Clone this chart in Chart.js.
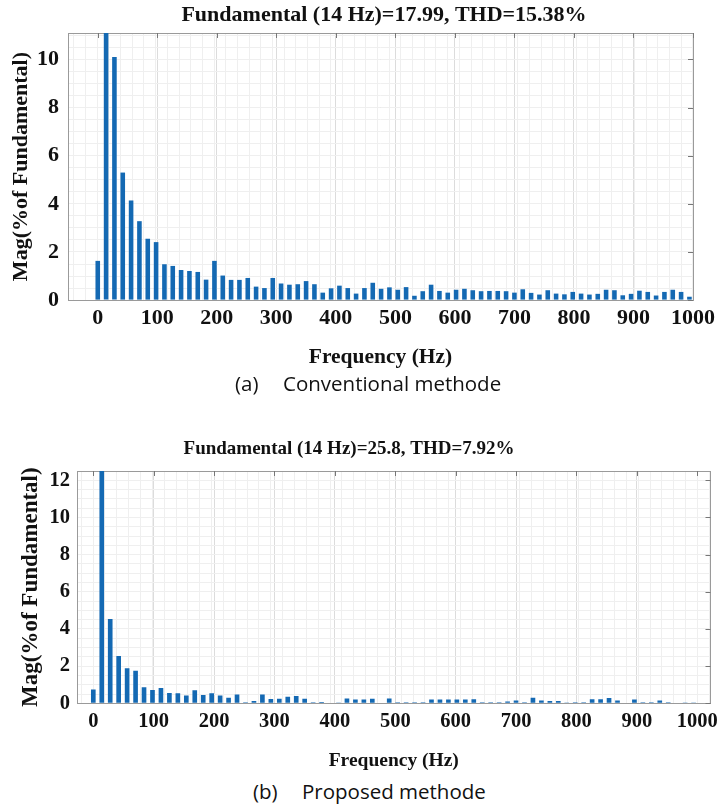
<!DOCTYPE html>
<html>
<head>
<meta charset="utf-8">
<title>FFT harmonic spectrum</title>
<script src="https://cdn.jsdelivr.net/npm/chart.js@4.4.0/dist/chart.umd.min.js"></script>
<style>
  body { margin: 0; background: #fff; width: 724px; height: 807px; position: relative; overflow: hidden; }
  .box { position: absolute; }
  .cap { position: absolute; font-family: 'Open Sans', sans-serif; font-size: 20.5px; color: #111; white-space: nowrap; }
</style>
</head>
<body>
<div class="box" style="left:0;top:0;width:760px;height:373px"><canvas id="chartA"></canvas></div>
<div class="cap" style="left:235px;top:369px">(a)</div>
<div class="cap" style="left:283px;top:369px">Conventional methode</div>
<div class="box" style="left:-26px;top:425px;width:750px;height:351px"><canvas id="chartB"></canvas></div>
<div class="cap" style="left:253px;top:777px">(b)</div>
<div class="cap" style="left:302px;top:777px">Proposed methode</div>
<script>
// Harmonic frequencies (multiples of the 14 Hz fundamental)
const freqHz = [0, 14, 28, 42, 56, 70, 84, 98, 112, 126, 140, 154, 168, 182, 196, 210,
  224, 238, 252, 266, 280, 294, 308, 322, 336, 350, 364, 378, 392, 406, 420, 434,
  448, 462, 476, 490, 504, 518, 532, 546, 560, 574, 588, 602, 616, 630, 644, 658,
  672, 686, 700, 714, 728, 742, 756, 770, 784, 798, 812, 826, 840, 854, 868, 882,
  896, 910, 924, 938, 952, 966, 980, 994];

// (a) Conventional method, magnitude in % of fundamental
const magConventional = [1.63, 100, 10.1, 5.3, 4.14, 3.28, 2.55, 2.41, 1.49, 1.42, 1.25, 1.21,
  1.17, 0.85, 1.63, 1.02, 0.84, 0.84, 0.92, 0.56, 0.5, 0.92, 0.69, 0.64,
  0.66, 0.79, 0.66, 0.31, 0.49, 0.6, 0.5, 0.27, 0.5, 0.72, 0.47, 0.53,
  0.43, 0.54, 0.18, 0.37, 0.64, 0.38, 0.31, 0.43, 0.47, 0.41, 0.37, 0.38,
  0.38, 0.37, 0.31, 0.45, 0.3, 0.23, 0.41, 0.27, 0.24, 0.34, 0.27, 0.23,
  0.26, 0.43, 0.41, 0.2, 0.26, 0.39, 0.34, 0.19, 0.34, 0.43, 0.34, 0.14];

// (b) Proposed method, magnitude in % of fundamental
const magProposed = [0.74, 100, 4.54, 2.54, 1.88, 1.75, 0.86, 0.72, 0.82, 0.56, 0.54, 0.42,
  0.7, 0.44, 0.54, 0.42, 0.3, 0.47, 0.05, 0.12, 0.47, 0.23, 0.25, 0.35,
  0.39, 0.25, 0.05, 0.07, 0.03, 0.02, 0.26, 0.21, 0.21, 0.25, 0.03, 0.26,
  0.05, 0.05, 0.05, 0.05, 0.2, 0.2, 0.2, 0.2, 0.2, 0.22, 0.05, 0.05,
  0.05, 0.1, 0.15, 0.05, 0.3, 0.15, 0.12, 0.12, 0.02, 0.05, 0.05, 0.22,
  0.22, 0.28, 0.15, 0.03, 0.2, 0.05, 0.05, 0.15, 0.05, 0.03, 0.02, 0.01];

// Tick labels
const xTicks = [0, 100, 200, 300, 400, 500, 600, 700, 800, 900, 1000];
const yTicksA = [0, 2, 4, 6, 8, 10];
const yTicksB = [0, 2, 4, 6, 8, 10, 12];

const titleA = 'Fundamental (14 Hz)=17.99, THD=15.38%';
const titleB = 'Fundamental (14 Hz)=25.8, THD=7.92%';
const xTitle = 'Frequency (Hz)';
const yTitle = 'Mag(%of Fundamental)';

const serif = 'Liberation Serif, Times New Roman, serif';
const barBlue = '#1469b3';
const majorGrid = '#dcdcdc';
const minorGrid = '#efefef';
const frameGray = '#9a9a9a';

// minor grid positions between the major ticks
function gridSteps(min, max, step) {
  const out = [];
  for (let v = Math.ceil(min / step) * step; v <= max + 1e-9; v += step) {
    out.push({ value: Math.round(v * 1000) / 1000 });
  }
  return out;
}

// small inward tick marks on the top and right edges of the box
const boxTicks = {
  id: 'boxTicks',
  afterDraw(chart) {
    const { ctx, chartArea, scales } = chart;
    ctx.save();
    ctx.strokeStyle = '#777';
    ctx.lineWidth = 1;
    ctx.beginPath();
    scales.x.ticks.forEach(t => {
      const px = Math.round(scales.x.getPixelForValue(t.value)) + 0.5;
      ctx.moveTo(px, chartArea.top);
      ctx.lineTo(px, chartArea.top + 5);
    });
    scales.y.ticks.forEach(t => {
      const py = Math.round(scales.y.getPixelForValue(t.value)) + 0.5;
      ctx.moveTo(chartArea.right, py);
      ctx.lineTo(chartArea.right - 5, py);
    });
    ctx.stroke();
    ctx.restore();
  }
};

function makeSpectrum(canvasId, mags, title, cfg) {
  const ctx = document.getElementById(canvasId).getContext('2d');
  return new Chart(ctx, {
    type: 'bar',
    data: {
      datasets: [{
        data: freqHz.map((f, i) => ({ x: f, y: mags[i] })),
        backgroundColor: barBlue,
        borderWidth: 0,
        categoryPercentage: 1,
        barPercentage: 0.55
      }]
    },
    plugins: [boxTicks],
    options: {
      responsive: true,
      maintainAspectRatio: false,
      animation: false,
      layout: { padding: cfg.padding },
      plugins: {
        legend: { display: false },
        tooltip: { enabled: false },
        title: {
          display: true,
          text: title,
          color: '#111',
          font: { family: serif, size: cfg.titleSize, weight: 'bold' },
          padding: cfg.titlePadding
        }
      },
      scales: {
        x: {
          type: 'linear',
          min: cfg.xMin,
          max: cfg.xMax,
          bounds: 'data',
          offset: false,
          afterBuildTicks: (scale) => { scale.ticks = xTicks.map(v => ({ value: v })); },
          grid: { offset: false, color: majorGrid, drawTicks: false },
          border: { color: frameGray },
          ticks: {
            padding: cfg.xTickPad,
            maxRotation: 0,
            autoSkip: false,
            color: '#111',
            font: { family: serif, size: cfg.tickSize, weight: 'bold' },
            callback: (v) => String(v)
          },
          title: {
            display: true,
            text: xTitle,
            color: '#111',
            font: { family: serif, size: cfg.xTitleSize, weight: 'bold' },
            padding: cfg.xTitlePadding
          }
        },
        y: {
          min: 0,
          max: cfg.yMax,
          bounds: 'data',
          afterBuildTicks: (scale) => { scale.ticks = cfg.yTicks.map(v => ({ value: v })); },
          afterFit: (scale) => { scale.width = cfg.yAxisWidth; },
          grid: { color: majorGrid, drawTicks: false },
          border: { color: frameGray },
          ticks: {
            padding: cfg.yTickPad,
            color: '#111',
            font: { family: serif, size: cfg.tickSize, weight: 'bold' }
          },
          title: {
            display: true,
            text: yTitle,
            color: '#111',
            font: { family: serif, size: cfg.yTitleSize, weight: 'bold' },
            padding: cfg.yTitlePadding
          }
        },
        xMinor: {
          type: 'linear',
          position: 'top',
          min: cfg.xMin,
          max: cfg.xMax,
          bounds: 'data',
          z: -1,
          afterBuildTicks: (scale) => { scale.ticks = gridSteps(scale.min, scale.max, 20); },
          grid: { color: minorGrid, drawTicks: false },
          border: { color: frameGray },
          ticks: { display: false }
        },
        yMinor: {
          type: 'linear',
          position: 'right',
          min: 0,
          max: cfg.yMax,
          bounds: 'data',
          z: -1,
          afterBuildTicks: (scale) => { scale.ticks = gridSteps(scale.min, scale.max, 0.5); },
          afterFit: (scale) => { scale.width = cfg.rightWidth; },
          grid: { color: minorGrid, drawTicks: false },
          border: { color: frameGray },
          ticks: { display: false }
        }
      }
    }
  });
}

makeSpectrum('chartA', magConventional, titleA, {
  xMin: -50, xMax: 1000, yMax: 11.1, yTicks: yTicksA,
  padding: { left: 8, right: 0, top: 0, bottom: 0 },
  yAxisWidth: 60, rightWidth: 67,
  titleSize: 22, titlePadding: { top: 2, bottom: 4.6 },
  tickSize: 22, xTickPad: 5, yTickPad: 9,
  xTitleSize: 21.5, xTitlePadding: { top: 7.7, bottom: 3 },
  yTitleSize: 22, yTitlePadding: { top: 0, bottom: 4 }
});

makeSpectrum('chartB', magProposed, titleB, {
  xMin: -27, xMax: 1022, yMax: 12.5, yTicks: yTicksB,
  padding: { left: 0, right: 0, top: 0, bottom: 0 },
  yAxisWidth: 103, rightWidth: 9,
  titleSize: 19, titlePadding: { top: 12.6, bottom: 10.6 },
  tickSize: 20.5, xTickPad: 6, yTickPad: 7,
  xTitleSize: 19.5, xTitlePadding: { top: 9.7, bottom: 3 },
  yTitleSize: 23, yTitlePadding: { top: 43, bottom: 4 }
});
</script>
</body>
</html>
